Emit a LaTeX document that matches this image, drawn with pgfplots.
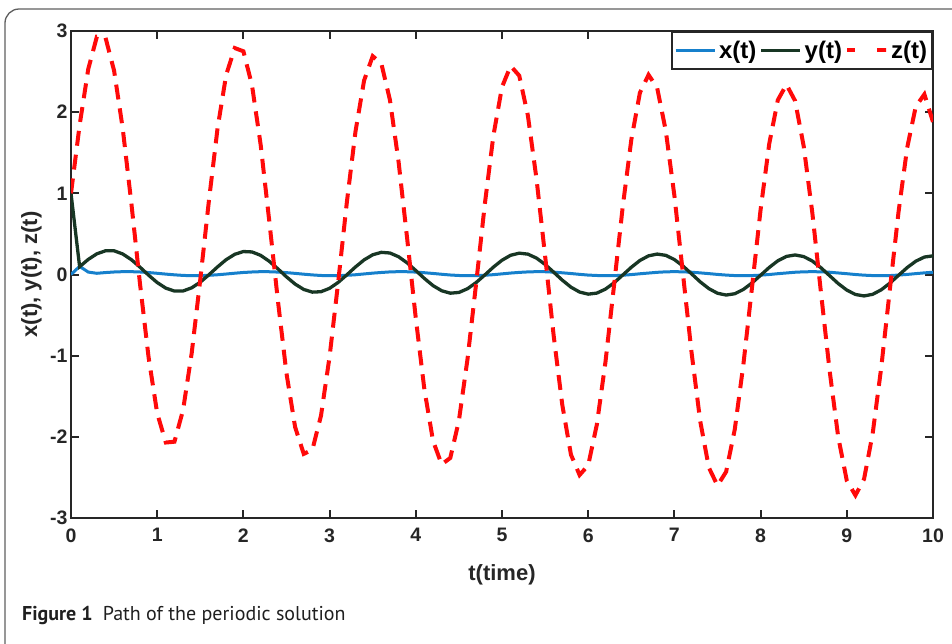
\documentclass[border=0pt]{standalone}
\usepackage{pgfplots}
\pgfplotsset{compat=1.18}
\usepackage{pgfplotstable}
\usepackage{fontspec}
\setmainfont{Liberation Sans}
\newfontfamily\capfont{PT Sans}

\definecolor{xblue}{RGB}{22,128,204}
\definecolor{ygreen}{RGB}{24,54,36}
\definecolor{zred}{RGB}{255,10,10}
\definecolor{axgray}{RGB}{38,38,38}
\definecolor{boxgray}{RGB}{95,95,95}

% t, x(t), y(t), z(t), step 0.1
\pgfplotstableread{
t x y z
0.0 0.000 1.000 1.00
0.1 0.100 0.096 1.84
0.2 0.030 0.186 2.53
0.3 0.015 0.255 2.93
0.4 0.024 0.292 2.92
0.5 0.031 0.292 2.51
0.6 0.035 0.253 1.80
0.7 0.035 0.183 0.88
0.8 0.031 0.091 -0.11
0.9 0.024 -0.008 -1.02
1.0 0.015 -0.099 -1.71
1.1 0.005 -0.168 -2.07
1.2 -0.004 -0.204 -2.06
1.3 -0.011 -0.203 -1.67
1.4 -0.015 -0.164 -0.97
1.5 -0.014 -0.094 -0.06
1.6 -0.010 -0.003 0.91
1.7 -0.003 0.094 1.80
1.8 0.006 0.183 2.46
1.9 0.016 0.249 2.79
2.0 0.025 0.283 2.75
2.1 0.031 0.278 2.33
2.2 0.035 0.236 1.60
2.3 0.034 0.163 0.66
2.4 0.030 0.070 -0.32
2.5 0.023 -0.029 -1.22
2.6 0.014 -0.118 -1.88
2.7 0.004 -0.184 -2.21
2.8 -0.005 -0.217 -2.16
2.9 -0.012 -0.212 -1.74
3.0 -0.015 -0.170 -1.01
3.1 -0.014 -0.097 -0.09
3.2 -0.010 -0.004 0.89
3.3 -0.003 0.093 1.76
3.4 0.007 0.180 2.39
3.5 0.017 0.243 2.69
3.6 0.025 0.273 2.60
3.7 0.032 0.265 2.15
3.8 0.035 0.219 1.39
3.9 0.034 0.143 0.44
4.0 0.030 0.049 -0.54
4.1 0.022 -0.049 -1.42
4.2 0.013 -0.137 -2.05
4.3 0.003 -0.200 -2.34
4.4 -0.006 -0.230 -2.26
4.5 -0.012 -0.221 -1.80
4.6 -0.015 -0.175 -1.04
4.7 -0.014 -0.099 -0.11
4.8 -0.009 -0.006 0.86
4.9 -0.002 0.091 1.71
5.0 0.008 0.176 2.31
5.1 0.018 0.237 2.57
5.2 0.026 0.263 2.45
5.3 0.032 0.251 1.96
5.4 0.035 0.202 1.18
5.5 0.034 0.124 0.23
5.6 0.029 0.028 -0.76
5.7 0.021 -0.070 -1.61
5.8 0.012 -0.156 -2.22
5.9 0.002 -0.216 -2.47
6.0 -0.007 -0.242 -2.35
6.1 -0.012 -0.229 -1.85
6.2 -0.015 -0.180 -1.08
6.3 -0.014 -0.102 -0.13
6.4 -0.009 -0.007 0.83
6.5 -0.001 0.089 1.66
6.6 0.009 0.173 2.24
6.7 0.018 0.230 2.46
6.8 0.027 0.252 2.30
6.9 0.033 0.236 1.77
7.0 0.035 0.184 0.97
7.1 0.033 0.104 0.00
7.2 0.028 0.007 -0.97
7.3 0.020 -0.091 -1.81
7.4 0.011 -0.174 -2.38
7.5 0.001 -0.231 -2.60
7.6 -0.007 -0.253 -2.43
7.7 -0.013 -0.237 -1.91
7.8 -0.015 -0.184 -1.11
7.9 -0.013 -0.104 -0.16
8.0 -0.008 -0.009 0.80
8.1 0.000 0.087 1.61
8.2 0.010 0.169 2.15
8.3 0.019 0.223 2.34
8.4 0.028 0.241 2.14
8.5 0.033 0.221 1.58
8.6 0.035 0.166 0.76
8.7 0.033 0.083 -0.22
8.8 0.028 -0.014 -1.18
8.9 0.019 -0.111 -2.00
9.0 0.010 -0.192 -2.54
9.1 0.000 -0.246 -2.72
9.2 -0.008 -0.264 -2.52
9.3 -0.013 -0.244 -1.96
9.4 -0.015 -0.188 -1.14
9.5 -0.013 -0.106 -0.18
9.6 -0.007 -0.010 0.77
9.7 0.001 0.085 1.56
9.8 0.011 0.164 2.07
9.9 0.020 0.215 2.22
10.0 0.028 0.230 1.88
}\pathdata

\begin{document}
\begin{tikzpicture}
\useasboundingbox (0,0) rectangle (952pt,-643pt);
\draw[boxgray, line width=1.3pt, rounded corners=14pt] (5pt,-9pt) rectangle (1000pt,-700pt);

\begin{axis}[
    at={(71pt,-518pt)}, anchor=south west,
    scale only axis,
    width=862pt, height=487pt,
    xmin=0, xmax=10, ymin=-3, ymax=3,
    xtick={0,1,...,10}, ytick={-3,-2,...,3},
    tick align=inside,
    major tick length=8pt,
    axis line style={axgray, line width=2.2pt},
    tick style={axgray, line width=2pt},
    /pgf/number format/assume math mode=true,
    ticklabel style={font=\fontsize{19.5}{19.5}\selectfont\bfseries, text=axgray},
    xticklabel style={yshift=-7pt},
    xlabel={t(time)},
    ylabel={x(t), y(t), z(t)},
    label style={font=\fontsize{22}{22}\selectfont\bfseries, text=axgray},
    xlabel style={at={(axis description cs:0.5,0)}, anchor=base, yshift=-62pt},
    ylabel style={at={(axis description cs:-0.0394,0.5)}, anchor=base},
    legend columns=3,
    legend style={at={(1,1)}, anchor=north east, draw=axgray, line width=2pt,
        font=\fontsize{24}{24}\selectfont\bfseries, text=black,
        inner xsep=2pt, inner ysep=5pt,
        nodes={inner xsep=3pt, inner ysep=4pt},
        /tikz/every even column/.append style={column sep=0pt}},
    legend image code/.code={\draw[#1, line cap=butt] (0pt,0pt) -- (39pt,0pt);},
]
\addplot[xblue, line width=3pt] table[x=t, y=x] {\pathdata};
\addlegendentry{x(t)}
\addplot[ygreen, line width=3.3pt] table[x=t, y=y] {\pathdata};
\addlegendentry{y(t)}
\addplot[zred, line width=4pt, dash pattern=on 15pt off 9pt,
    legend image post style={dash pattern=on 8pt off 22pt on 9pt off 0pt}]
    table[x=t, y=z] {\pathdata};
\addlegendentry{z(t)}
\end{axis}

\node[anchor=base west, inner sep=0pt, font=\capfont\fontsize{20}{20}\selectfont, text=black!88]
    at (22pt,-620pt) {\textbf{Figure 1}\hspace{10pt}Path of the periodic solution};
\end{tikzpicture}
\end{document}
